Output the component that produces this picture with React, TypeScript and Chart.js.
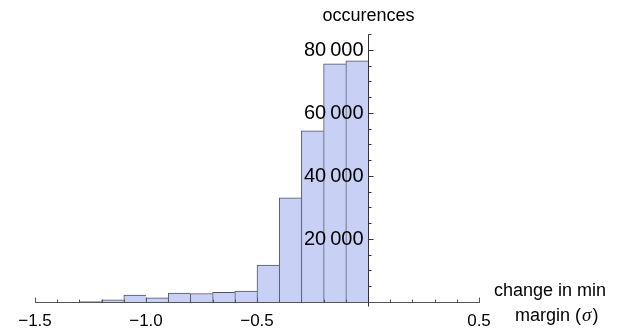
import React, { useEffect, useRef } from "react";
import { Chart, registerables } from "chart.js";

Chart.register(...registerables);

// ---- data ----
const binStarts = [-1.3, -1.2, -1.1, -1.0, -0.9, -0.8, -0.7, -0.6, -0.5, -0.4, -0.3, -0.2, -0.1];
const counts = [150, 650, 2200, 1300, 2800, 2700, 3100, 3500, 11700, 33000, 54300, 75500, 76500];
const binWidth = 0.1;
const xMin = -1.5;
const xMax = 0.5;
const yMax = 85000;
const xMajorTicks = [-1.5, -1.0, -0.5, 0, 0.5];
const xTickLabels = ["\u22121.5", "\u22121.0", "\u22120.5", "", "0.5"];
const xMinorStep = 0.1;
const yMajorTicks = [20000, 40000, 60000, 80000];
const yTickLabels = ["20\u2009000", "40\u2009000", "60\u2009000", "80\u2009000"];
const yMinorStep = 5000;
const yTitle = "occurences";
const xTitleLine1 = "change in min";
const xTitleLine2 = "margin (";
const xTitleSymbol = "\u03c3";
const xTitleEnd = ")";

const SANS = "'Liberation Sans', Arial, Helvetica, sans-serif";

const axesPlugin = {
  id: "mmaAxes",
  afterDatasetsDraw(chart: any) {
    const ctx = chart.ctx as CanvasRenderingContext2D;
    const xs = chart.scales.x;
    const ys = chart.scales.y;
    const y0 = Math.round(ys.getPixelForValue(0)) + 0.5;
    const x0 = Math.round(xs.getPixelForValue(0)) + 0.5;
    const yTop = Math.round(ys.getPixelForValue(yMax)) + 0.5;
    const xL = Math.round(xs.getPixelForValue(xMin)) + 0.5;
    const xR = Math.round(xs.getPixelForValue(xMax)) + 0.5;
    ctx.save();
    ctx.lineWidth = 1;

    // x axis
    ctx.strokeStyle = "#555";
    ctx.beginPath();
    ctx.moveTo(xL - 0.5, y0);
    ctx.lineTo(xR + 0.5, y0);
    ctx.stroke();
    // x minor ticks
    const nMinor = Math.round((xMax - xMin) / xMinorStep);
    ctx.beginPath();
    for (let i = 0; i <= nMinor; i++) {
      const v = xMin + i * xMinorStep;
      const px = Math.round(xs.getPixelForValue(v)) + 0.5;
      ctx.moveTo(px, y0);
      ctx.lineTo(px, y0 - 3);
    }
    ctx.stroke();
    // x major ticks
    ctx.beginPath();
    xMajorTicks.forEach((v) => {
      const px = Math.round(xs.getPixelForValue(v)) + 0.5;
      ctx.moveTo(px, y0);
      ctx.lineTo(px, y0 - 5);
    });
    ctx.stroke();

    // y axis
    ctx.strokeStyle = "#333";
    ctx.beginPath();
    ctx.moveTo(x0, yTop);
    ctx.lineTo(x0, y0 + 4);
    ctx.stroke();
    ctx.beginPath();
    for (let v = yMinorStep; v <= yMax; v += yMinorStep) {
      const py = Math.round(ys.getPixelForValue(v)) + 0.5;
      ctx.moveTo(x0, py);
      ctx.lineTo(x0 + 3, py);
    }
    ctx.stroke();
    ctx.beginPath();
    yMajorTicks.forEach((v) => {
      const py = Math.round(ys.getPixelForValue(v)) + 0.5;
      ctx.moveTo(x0, py);
      ctx.lineTo(x0 + 5, py);
    });
    ctx.stroke();

    // labels
    ctx.fillStyle = "#000";
    ctx.font = `17px ${SANS}`;
    ctx.textAlign = "center";
    ctx.textBaseline = "alphabetic";
    xMajorTicks.forEach((v, i) => {
      const px = xs.getPixelForValue(v);
      ctx.fillText(xTickLabels[i], px, 326);
    });

    ctx.font = `20px ${SANS}`;
    ctx.textAlign = "right";
    ctx.textBaseline = "middle";
    yMajorTicks.forEach((v, i) => {
      const py = ys.getPixelForValue(v);
      ctx.fillText(yTickLabels[i], x0 - 5, py + 1);
    });

    // titles
    ctx.font = `18px ${SANS}`;
    ctx.textAlign = "center";
    ctx.textBaseline = "alphabetic";
    ctx.fillText(yTitle, x0, 21);

    ctx.textAlign = "left";
    ctx.fillText(xTitleLine1, 494, 296);
    let tx = 515;
    ctx.fillText(xTitleLine2, tx, 321);
    tx += ctx.measureText(xTitleLine2).width;
    ctx.font = `italic 19px 'Liberation Serif', 'Times New Roman', serif`;
    ctx.fillText(xTitleSymbol, tx + 1, 321);
    tx += ctx.measureText(xTitleSymbol).width + 2;
    ctx.font = `18px ${SANS}`;
    ctx.fillText(xTitleEnd, tx, 321);

    ctx.restore();
  },
};

export default function App() {
  const ref = useRef<HTMLCanvasElement | null>(null);
  useEffect(() => {
    if (!ref.current) return;
    const chart = new Chart(ref.current, {
      type: "bar",
      data: {
        datasets: [
          {
            data: binStarts.map((s, i) => ({ x: s + binWidth / 2, y: counts[i] })),
            backgroundColor: "rgb(200,208,245)",
            borderColor: "rgb(78,82,100)",
            borderWidth: { top: 1, left: 1, right: 0, bottom: 0 },
            barPercentage: 1,
            categoryPercentage: 1,
          },
        ],
      },
      options: {
        responsive: false,
        animation: false,
        events: [],
        layout: { padding: { left: 35, right: 153, top: 34, bottom: 31 } },
        plugins: { legend: { display: false }, tooltip: { enabled: false } },
        scales: {
          x: { type: "linear", min: xMin, max: xMax, offset: false, display: false },
          y: { type: "linear", min: 0, max: yMax, display: false },
        },
      },
      plugins: [axesPlugin],
    } as any);
    return () => chart.destroy();
  }, []);
  return (
    <div style={{ position: "fixed", left: 0, top: 0, width: 632, height: 333, background: "#fff" }}>
      <canvas ref={ref} width={632} height={333} style={{ width: 632, height: 333 }} />
    </div>
  );
}
